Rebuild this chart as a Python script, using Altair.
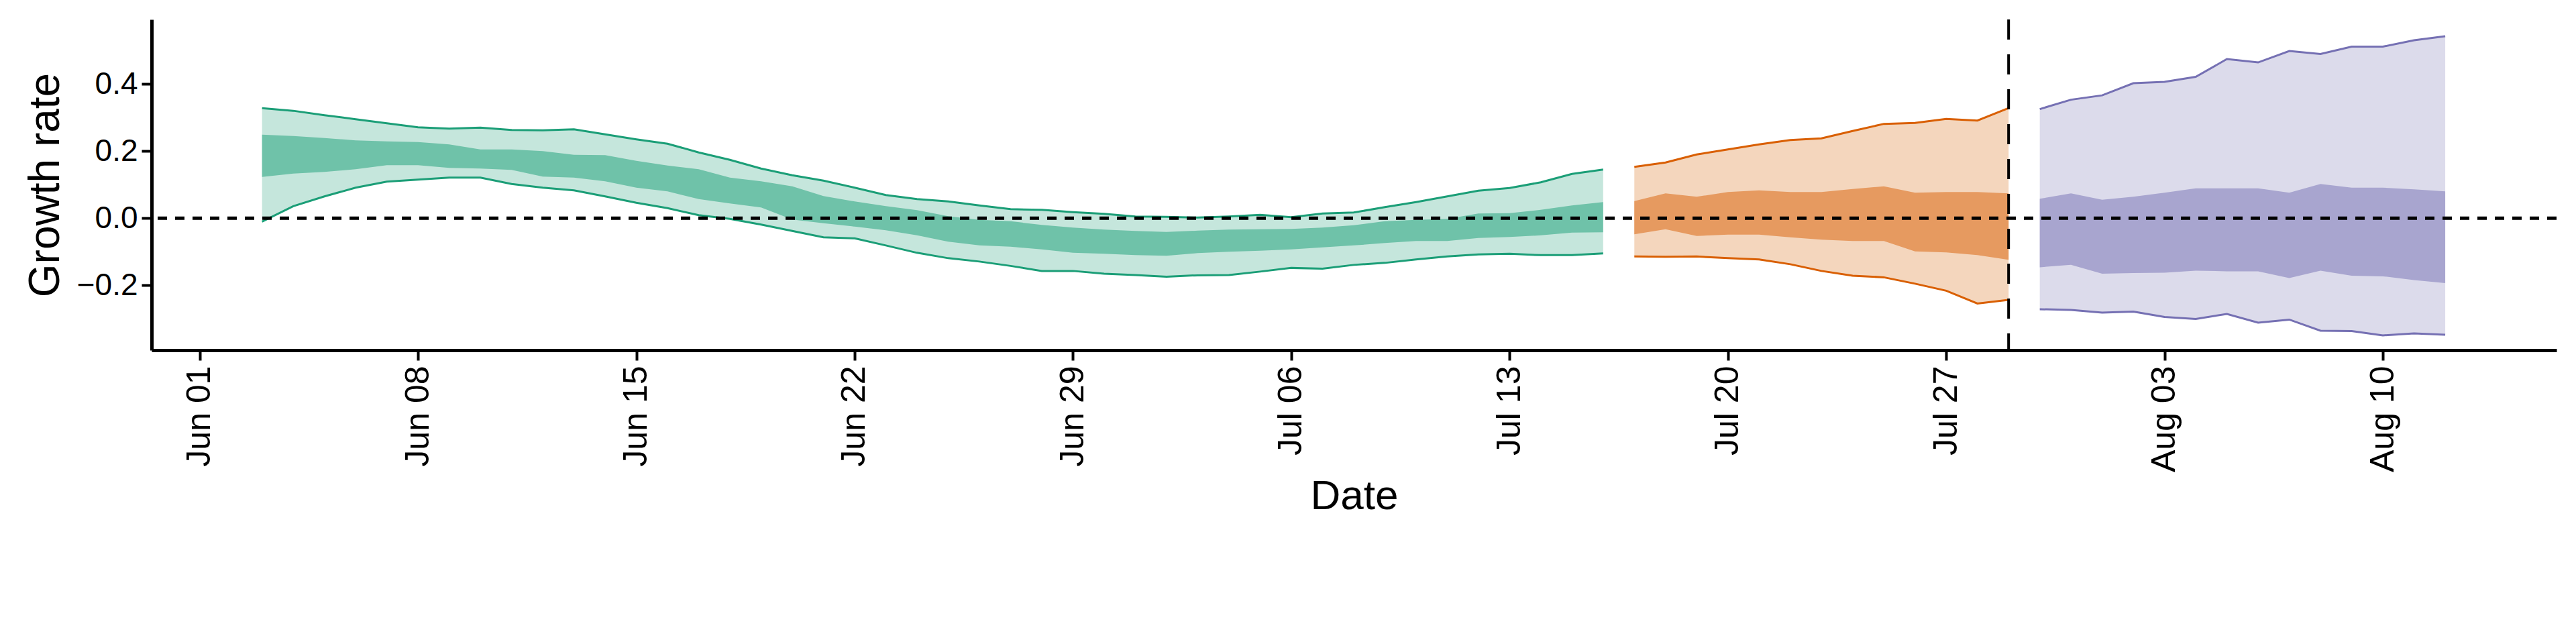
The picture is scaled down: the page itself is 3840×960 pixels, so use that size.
import altair as alt
import pandas as pd

FONT = "Liberation Sans"

# day offsets from 2020-06-01
EST_DAYS = list(range(2, 46))
EST_HI90 = [0.328, 0.320, 0.307, 0.295, 0.283, 0.271, 0.267, 0.270, 0.263, 0.262, 0.265, 0.250, 0.235, 0.222,
            0.196, 0.174, 0.148, 0.128, 0.112, 0.091, 0.069, 0.057, 0.050, 0.038, 0.027, 0.025, 0.018, 0.013,
            0.005, 0.004, 0.002, 0.005, 0.010, 0.003, 0.014, 0.017, 0.033, 0.048, 0.065, 0.082, 0.090, 0.107,
            0.132, 0.145]
EST_HI50 = [0.249, 0.245, 0.239, 0.232, 0.229, 0.227, 0.220, 0.205, 0.205, 0.200, 0.189, 0.188, 0.171, 0.157,
            0.146, 0.121, 0.110, 0.095, 0.066, 0.050, 0.036, 0.024, 0.006, -0.005, -0.009, -0.020, -0.028, -0.034,
            -0.038, -0.041, -0.037, -0.034, -0.033, -0.032, -0.028, -0.021, -0.009, -0.005, -0.002, 0.014, 0.015,
            0.025, 0.038, 0.048]
EST_LO50 = [0.123, 0.133, 0.138, 0.146, 0.158, 0.158, 0.150, 0.148, 0.144, 0.124, 0.121, 0.110, 0.091, 0.080,
            0.057, 0.044, 0.032, -0.004, -0.015, -0.025, -0.036, -0.051, -0.070, -0.081, -0.085, -0.093, -0.103,
            -0.106, -0.110, -0.112, -0.104, -0.100, -0.097, -0.093, -0.087, -0.081, -0.074, -0.068, -0.068,
            -0.059, -0.056, -0.051, -0.043, -0.042]
EST_LO90 = [-0.010, 0.036, 0.065, 0.091, 0.109, 0.115, 0.121, 0.121, 0.102, 0.091, 0.083, 0.065, 0.046, 0.030,
            0.009, -0.002, -0.019, -0.038, -0.057, -0.060, -0.081, -0.103, -0.119, -0.129, -0.142, -0.157, -0.157,
            -0.165, -0.169, -0.174, -0.170, -0.169, -0.159, -0.148, -0.150, -0.139, -0.133, -0.123, -0.114,
            -0.108, -0.106, -0.110, -0.110, -0.105]

PART_DAYS = list(range(46, 59))
PART_HI90 = [0.153, 0.166, 0.190, 0.205, 0.220, 0.233, 0.238, 0.260, 0.281, 0.284, 0.296, 0.291, 0.328]
PART_HI50 = [0.051, 0.074, 0.064, 0.078, 0.083, 0.078, 0.078, 0.087, 0.095, 0.076, 0.078, 0.078, 0.074]
PART_LO50 = [-0.048, -0.033, -0.053, -0.049, -0.049, -0.057, -0.064, -0.068, -0.068, -0.099, -0.102, -0.110, -0.124]
PART_LO90 = [-0.114, -0.115, -0.114, -0.119, -0.123, -0.137, -0.157, -0.171, -0.176, -0.195, -0.216, -0.254, -0.243]

FC_DAYS = list(range(59, 73))
FC_HI90 = [0.325, 0.353, 0.366, 0.402, 0.406, 0.421, 0.474, 0.464, 0.498, 0.489, 0.511, 0.511, 0.530, 0.542]
FC_HI50 = [0.058, 0.074, 0.055, 0.064, 0.076, 0.089, 0.089, 0.089, 0.076, 0.102, 0.091, 0.091, 0.086, 0.080]
FC_LO50 = [-0.146, -0.139, -0.165, -0.163, -0.162, -0.156, -0.158, -0.158, -0.178, -0.156, -0.171, -0.173, -0.184, -0.193]
FC_LO90 = [-0.271, -0.273, -0.281, -0.278, -0.294, -0.300, -0.285, -0.311, -0.302, -0.335, -0.336, -0.349, -0.343, -0.347]

TYPES = ["Estimate", "Estimate based on partial data", "Forecast"]
LINE = ["#1b9e77", "#d95f02", "#7570b3"]
DARK = ["#6fc2a9", "#e69a60", "#a8a5cf"]
LIGHT = ["#c5e6dc", "#f4d6bd", "#dcdbeb"]

TICKS = ["2020-06-01", "2020-06-08", "2020-06-15", "2020-06-22", "2020-06-29", "2020-07-06",
         "2020-07-13", "2020-07-20", "2020-07-27", "2020-08-03", "2020-08-10"]

base_day = pd.Timestamp("2020-06-01")
rows = []
for t, days, hi90, hi50, lo50, lo90 in [
    (TYPES[0], EST_DAYS, EST_HI90, EST_HI50, EST_LO50, EST_LO90),
    (TYPES[1], PART_DAYS, PART_HI90, PART_HI50, PART_LO50, PART_LO90),
    (TYPES[2], FC_DAYS, FC_HI90, FC_HI50, FC_LO50, FC_LO90),
]:
    for d, a, b, c, e in zip(days, hi90, hi50, lo50, lo90):
        rows.append({"date": (base_day + pd.Timedelta(days=d)).strftime("%Y-%m-%d"),
                     "type": t, "hi90": a, "hi50": b, "lo50": c, "lo90": e})
df = pd.DataFrame(rows)

x = alt.X("date:T", title="Date",
          scale=alt.Scale(type="utc", domain=["2020-05-30T11:00:00", "2020-08-15T13:40:00"], nice=False),
          axis=alt.Axis(values=TICKS, format="%b %d", labelAngle=270, labelAlign="right",
                        labelBaseline="middle", grid=False, tickSize=15, labelPadding=8, titlePadding=6))
y_scale = alt.Scale(domain=[-0.393, 0.592], nice=False, zero=False)
y = alt.Y("lo90:Q", title="Growth rate", scale=y_scale,
          axis=alt.Axis(values=[-0.2, 0.0, 0.2, 0.4], format=".1f", grid=False, tickSize=15,
                        labelPadding=6, titlePadding=14))

stroke_scale = alt.Scale(domain=TYPES, range=LINE)
base = alt.Chart(df).encode(x=x)

outer = base.mark_area(strokeWidth=0).encode(
    y=y, y2="hi90:Q",
    color=alt.Color("type:N", scale=alt.Scale(domain=TYPES, range=LIGHT), legend=None),
)
inner = base.mark_area(strokeWidth=0).encode(
    y=alt.Y("lo50:Q"), y2="hi50:Q",
    fill=alt.Fill("type:N", title="Type", scale=alt.Scale(domain=TYPES, range=DARK)),
    stroke=alt.Stroke("type:N", title="Type", scale=stroke_scale),
)
up_line = base.mark_line(strokeWidth=3).encode(
    y=alt.Y("hi90:Q"), detail="type:N",
    stroke=alt.Stroke("type:N", title="Type", scale=stroke_scale),
)
lo_line = base.mark_line(strokeWidth=3).encode(
    y=alt.Y("lo90:Q"), detail="type:N",
    stroke=alt.Stroke("type:N", title="Type", scale=stroke_scale),
)

zero = alt.Chart(pd.DataFrame({"v": [0.0]})).mark_rule(
    strokeDash=[14, 12], strokeWidth=5, color="black"
).encode(y=alt.Y("v:Q", scale=y_scale))
vline = alt.Chart(pd.DataFrame({"d": ["2020-07-29"]})).mark_rule(
    strokeDash=[30, 22], strokeWidth=4, color="black"
).encode(x=alt.X("d:T"))

chart = (
    alt.layer(outer, inner, up_line, lo_line, zero, vline)
    .properties(width=3585, height=493,
                autosize=alt.AutoSizeParams(type="none"),
                padding={"left": 218, "top": 21, "right": 21, "bottom": 430})
    .configure(font=FONT)
    .configure_view(stroke=None)
    .configure_axis(domainColor="black", domainWidth=5, tickColor="black", tickWidth=4,
                    labelColor="black", labelFontSize=50, titleFontSize=62, titleColor="black",
                    titleFontWeight="normal")
    .configure_axisY(labelFontSize=46, titleFontSize=64)
    .configure_legend(orient="none", legendX=0, legendY=833, direction="horizontal",
                      titleOrient="left", titleFontSize=58, titleFontWeight="normal", titleColor="black",
                      labelFontSize=52, labelColor="black", labelLimit=0, symbolType="square",
                      symbolSize=4200, symbolStrokeWidth=5, symbolOpacity=1,
                      columnPadding=80, labelOffset=26, titlePadding=26, titleBaseline="middle")
)

chart.save("out.html", embed_options={"renderer": "svg", "actions": False})
